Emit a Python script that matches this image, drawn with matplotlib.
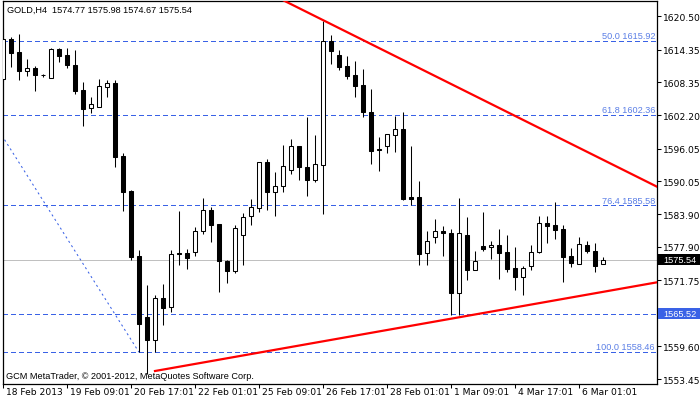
import numpy as np
import matplotlib
matplotlib.use('Agg')
import matplotlib.pyplot as plt
from matplotlib.patches import Rectangle
import matplotlib.transforms as mtransforms

# --- dati GOLD H4 ---
symbol = 'GOLD,H4'
last_ohlc = [1574.77, 1575.98, 1574.67, 1575.54]

opens = [1608.92, 1616.31, 1613.91, 1610.35, 1610.95, 1609.75, 1609.16, 1614.46, 1613.36, 1611.51,
         1606.89, 1603.51, 1603.84, 1607.39, 1608.15, 1594.65, 1588.24, 1576.19, 1564.93, 1560.75,
         1568.42, 1566.72, 1576.78, 1576.78, 1576.91, 1580.79, 1584.67, 1582.14, 1575.36, 1573.40,
         1580.11, 1583.62, 1585.06, 1593.54, 1588.00, 1589.25, 1592.06, 1596.46, 1592.61, 1590.23,
         1592.98, 1615.85, 1613.30, 1611.29, 1609.66, 1607.81, 1602.77, 1596.00, 1596.49, 1598.49,
         1599.69, 1587.07, 1587.07, 1576.73, 1579.68, 1580.79, 1580.42, 1569.34, 1580.11, 1573.70,
         1578.02, 1577.84, 1578.26, 1576.91, 1574.01, 1572.30, 1574.44, 1576.91, 1582.32, 1581.96,
         1581.22, 1576.17, 1574.75, 1578.26, 1577.10, 1574.77]
highs = [1618.34, 1616.74, 1617.18, 1612.62, 1611.38, 1609.85, 1614.70, 1614.56, 1614.61, 1614.34,
         1608.42, 1605.54, 1608.96, 1608.74, 1608.65, 1595.26, 1588.42, 1577.34, 1570.87, 1569.03,
         1571.00, 1577.34, 1584.49, 1577.52, 1581.59, 1586.94, 1585.37, 1582.20, 1575.49, 1582.01,
         1584.12, 1586.76, 1593.60, 1594.15, 1591.69, 1596.73, 1597.80, 1596.55, 1601.85, 1598.58,
         1619.58, 1617.05, 1614.28, 1613.17, 1612.25, 1610.77, 1607.08, 1598.25, 1598.76, 1602.14,
         1602.77, 1596.49, 1590.08, 1580.79, 1583.06, 1581.77, 1581.22, 1586.94, 1583.49, 1577.10,
         1584.30, 1579.06, 1581.22, 1580.11, 1577.95, 1574.33, 1578.26, 1583.67, 1583.67, 1586.15,
         1581.96, 1577.71, 1579.74, 1579.00, 1578.57, 1575.98]
lows = [1608.61, 1611.08, 1608.65, 1609.48, 1606.76, 1609.38, 1609.11, 1612.12, 1611.01, 1606.15,
        1600.30, 1602.64, 1603.66, 1605.54, 1592.72, 1584.60, 1575.49, 1558.46, 1554.43, 1558.55,
        1563.48, 1565.94, 1574.57, 1573.83, 1576.19, 1580.29, 1578.87, 1569.52, 1571.19, 1573.03,
        1574.62, 1582.01, 1584.45, 1584.82, 1583.67, 1588.00, 1591.38, 1590.32, 1587.37, 1589.99,
        1583.99, 1611.69, 1610.62, 1608.92, 1605.65, 1601.85, 1593.28, 1591.98, 1595.25, 1595.53,
        1586.63, 1585.65, 1574.57, 1574.62, 1578.57, 1576.28, 1565.40, 1565.40, 1571.85, 1573.70,
        1577.21, 1575.67, 1571.98, 1573.22, 1569.95, 1569.08, 1573.70, 1576.73, 1578.69, 1579.37,
        1571.48, 1574.25, 1574.75, 1576.73, 1573.22, 1574.67]
closes = [1616.31, 1613.67, 1610.35, 1610.95, 1609.72, 1609.70, 1614.46, 1613.23, 1611.56, 1606.76,
          1603.47, 1604.25, 1607.57, 1608.15, 1594.57, 1588.11, 1576.10, 1563.71, 1560.75, 1568.42,
          1566.66, 1576.60, 1576.51, 1575.95, 1580.79, 1584.67, 1582.01, 1575.36, 1573.40, 1581.35,
          1583.38, 1585.22, 1593.54, 1588.00, 1589.21, 1592.91, 1596.46, 1592.61, 1590.32, 1593.17,
          1615.85, 1614.15, 1611.23, 1609.53, 1607.69, 1602.88, 1595.68, 1595.72, 1598.71, 1599.69,
          1586.76, 1586.85, 1576.65, 1578.94, 1580.79, 1580.42, 1569.34, 1580.42, 1573.70, 1575.36,
          1577.52, 1578.26, 1576.73, 1573.83, 1572.30, 1573.96, 1576.91, 1582.32, 1581.83, 1581.09,
          1576.10, 1574.88, 1578.39, 1577.10, 1574.44, 1575.54]

date_labels = ['18 Feb 2013', '19 Feb 09:01', '20 Feb 17:01', '22 Feb 01:01', '25 Feb 09:01',
               '26 Feb 17:01', '28 Feb 01:01', '1 Mar 09:01', '4 Mar 17:01', '6 Mar 01:01']
date_bars = [0, 8, 16, 24, 32, 40, 48, 56, 64, 72]

price_ticks = [1620.50, 1614.35, 1608.35, 1602.20, 1596.05, 1590.05, 1583.90,
               1577.90, 1571.75, 1559.60, 1553.45]

fib_levels = ['50.0', '61.8', '76.4', '100.0']
fib_prices = [1615.92, 1602.36, 1585.58, 1558.46]
hline_price = 1565.52
bid_price = 1575.54

# oggetti disegnati: (barra, prezzo)
down_trend = [(40, 1619.80), (81.75, 1589.03)]
up_trend = [(19, 1554.99), (81.75, 1571.37)]
fib_base = [(-32.2, 1673.38), (17, 1558.46)]

# --- figura ---
W, H = 700, 402
fig = plt.figure(figsize=(W / 100, H / 100), dpi=100)
fig.patch.set_facecolor('white')
ax = fig.add_axes([3 / W, 17 / H, 654 / W, 383 / H])
ax.set_xlim(0, 81.75)
ax.set_ylim(1552.59, 1623.33)

plt.rcParams['font.family'] = 'Liberation Sans'
FS = 6.6
BLUE = '#3a62e6'

# candele
x = np.arange(len(opens))
o = np.array(opens); c = np.array(closes)
ax.vlines(x, lows, highs, color='black', lw=0.75, zorder=3)
up = c >= o
ax.bar(x[up], c[up] - o[up], bottom=o[up], width=0.55, color='white',
       edgecolor='black', lw=0.75, zorder=4)
ax.bar(x[~up], o[~up] - c[~up], bottom=c[~up], width=0.55, color='black',
       edgecolor='black', lw=0.75, zorder=4)

# livelli fibo e linea orizzontale
dash = dict(color=BLUE, lw=0.6, ls=(0, (6, 4)), zorder=2, antialiased=False)
for lev, p in zip(fib_levels, fib_prices):
    ax.axhline(p, **dash)
    ax.text(81.5, p + 0.15, f'{lev} {p:.2f}', color='#5b7fe6', fontsize=FS,
            ha='right', va='bottom', zorder=5)
ax.axhline(hline_price, **dash)
ax.axhline(bid_price, color='#c0c0c0', lw=0.6, zorder=1, antialiased=False)

# linea base fibo (punteggiata)
ax.plot([p[0] for p in fib_base], [p[1] for p in fib_base], color=BLUE,
        lw=0.75, ls=(0, (2, 3)), zorder=2)


def ray(pts, x_end=90, x_start=None):
    (x0, y0), (x1, y1) = pts
    k = (y1 - y0) / (x1 - x0)
    xs = x0 if x_start is None else x_start
    return [xs, x_end], [y0 + k * (xs - x0), y0 + k * (x_end - x0)]


xs, ys = ray(down_trend, x_start=25)
ax.plot(xs, ys, color='red', lw=1.6, zorder=6)
xs, ys = ray(up_trend)
ax.plot(xs, ys, color='red', lw=1.6, zorder=6)

# assi
for s in ax.spines.values():
    s.set_color('black')
    s.set_linewidth(0.9)
ax.yaxis.tick_right()
ax.set_yticks(price_ticks)
ax.set_yticklabels([f'{p:.2f}' for p in price_ticks])
ax.tick_params(axis='y', direction='out', length=3, width=0.75, pad=1.5, labelsize=FS)
ax.set_xticks(date_bars)
ax.set_xticklabels(date_labels, ha='left')
ax.tick_params(axis='x', direction='out', length=3, width=0.75, pad=-1, labelsize=FS)
shift = mtransforms.ScaledTranslation(3 / 100, 0, fig.dpi_scale_trans)
for lbl in ax.get_xticklabels():
    lbl.set_transform(lbl.get_transform() + shift)

# etichette prezzo a destra
bt = mtransforms.blended_transform_factory(fig.transFigure, ax.transData)
dp = 5.5 * (1623.33 - 1552.59) / 383
for p, fc in [(bid_price, 'black'), (hline_price, BLUE)]:
    ax.add_patch(Rectangle((658 / W, p - dp), 42 / W, 2 * dp, transform=bt,
                           facecolor=fc, edgecolor='none', clip_on=False, zorder=7))
    ax.text(663 / W, p, f'{p:.2f}', transform=bt, color='white', fontsize=FS,
            ha='left', va='center', zorder=8, clip_on=False)

# testi
fig.text(7 / W, 1 - 10.7 / H, symbol + '  ' + ' '.join(f'{v:.2f}' for v in last_ohlc),
         fontsize=FS, ha='left', va='center')
fig.text(6 / W, 1 - 377 / H, 'GCM MetaTrader, © 2001-2012, MetaQuotes Software Corp.',
         fontsize=FS, ha='left', va='center')

fig.savefig('out.png', dpi=100)
